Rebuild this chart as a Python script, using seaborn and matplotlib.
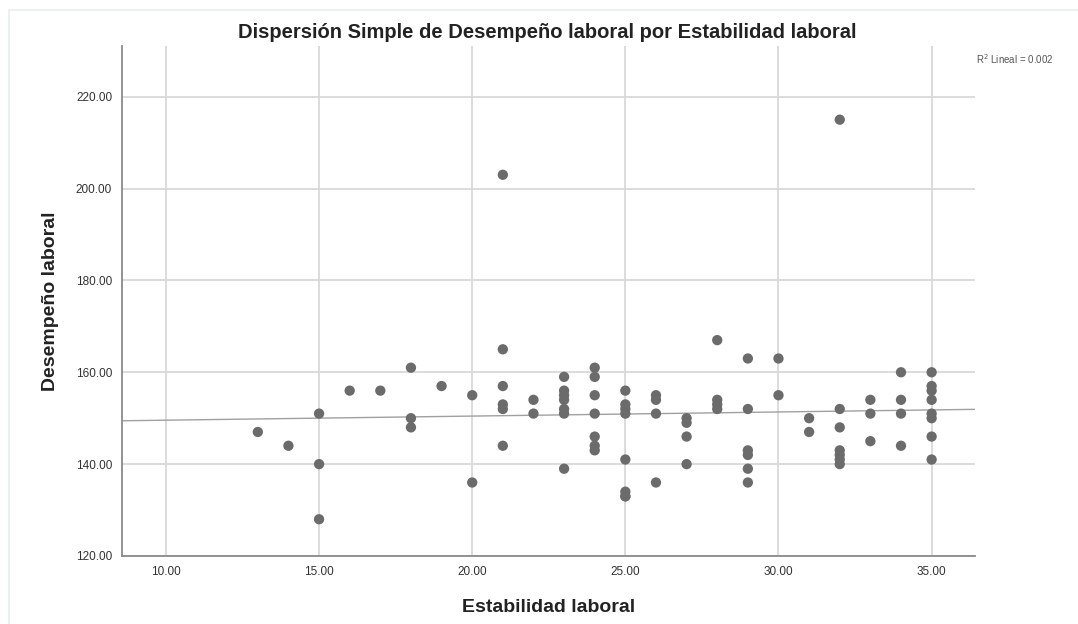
import matplotlib
matplotlib.use("Agg")
import matplotlib.pyplot as plt
import seaborn as sns
import pandas as pd

estabilidad = [13, 14, 15, 15, 15, 16, 17, 18, 18, 18, 19, 20, 20,
               21, 21, 21, 21, 21, 21, 22, 22,
               23, 23, 23, 23, 23, 23, 23,
               24, 24, 24, 24, 24, 24, 24,
               25, 25, 25, 25, 25, 25, 25, 25,
               26, 26, 26, 26,
               27, 27, 27, 27,
               28, 28, 28, 28,
               29, 29, 29, 29, 29, 29,
               30, 30,
               31, 31,
               32, 32, 32, 32, 32, 32, 32,
               33, 33, 33,
               34, 34, 34, 34,
               35, 35, 35, 35, 35, 35, 35, 35]
desempeno = [147, 144, 151, 140, 128, 156, 156, 161, 150, 148, 157, 155, 136,
             203, 165, 157, 153, 152, 144, 154, 151,
             159, 156, 155, 154, 152, 151, 139,
             161, 159, 155, 151, 146, 144, 143,
             156, 153, 152, 151, 141, 134, 133, 133,
             155, 154, 151, 136,
             150, 149, 146, 140,
             167, 154, 153, 152,
             163, 152, 143, 142, 139, 136,
             163, 155,
             150, 147,
             215, 152, 148, 143, 142, 141, 140,
             154, 151, 145,
             160, 154, 151, 144,
             160, 157, 156, 154, 151, 150, 146, 141]

x_ticks = [10, 15, 20, 25, 30, 35]
y_ticks = [120, 140, 160, 180, 200, 220]

df = pd.DataFrame({"Estabilidad laboral": estabilidad, "Desempeño laboral": desempeno})

sns.set_theme(style="white")
plt.rcParams["font.family"] = ["Liberation Sans", "DejaVu Sans"]

fig = plt.figure(figsize=(10.78, 6.24), dpi=100)
ax = fig.add_axes([0.113, 0.109, 0.791, 0.817])

# faint outer frame (left/top) as in the reference
fig.add_artist(plt.Line2D([0.008, 0.008], [0.0, 0.984], color="#e8eeee", linewidth=1.2))
fig.add_artist(plt.Line2D([0.008, 1.0], [0.984, 0.984], color="#e8eeee", linewidth=1.2))

ax.set_xlim(8.56, 36.4)
ax.set_ylim(120, 231)
ax.set_xticks(x_ticks)
ax.set_yticks(y_ticks)
ax.grid(True, color="#d9d9d9", linewidth=1.3, zorder=0)
ax.set_axisbelow(True)

sns.regplot(data=df, x="Estabilidad laboral", y="Desempeño laboral", ax=ax,
            scatter=False, ci=None, truncate=False,
            line_kws=dict(color="#a0a0a0", linewidth=1.0, zorder=2))
sns.scatterplot(data=df, x="Estabilidad laboral", y="Desempeño laboral", ax=ax,
                color="#6b6b6b", s=55, edgecolor="none", zorder=3)

ax.set_xticklabels([f"{v:.2f}" for v in x_ticks], fontsize=8.5, color="#333333")
ax.set_yticklabels([f"{v:.2f}" for v in y_ticks], fontsize=8.5, color="#333333")
ax.tick_params(axis="both", length=0, pad=7)

for s in ["top", "right"]:
    ax.spines[s].set_visible(False)
for s in ["left", "bottom"]:
    ax.spines[s].set_color("#8a8a8a")
    ax.spines[s].set_linewidth(1.3)

ax.set_xlabel("Estabilidad laboral", fontsize=14, fontweight="bold", labelpad=15, color="#222222")
ax.set_ylabel("Desempeño laboral", fontsize=14, fontweight="bold", labelpad=12, color="#222222")
fig.text(0.508, 0.948, "Dispersión Simple de Desempeño laboral por Estabilidad laboral",
         ha="center", va="center", fontsize=14.5, fontweight="bold", color="#222222")
fig.text(0.905, 0.905, "R$^2$ Lineal = 0.002", ha="left", va="center", fontsize=7, color="#555555")

fig.savefig("out.png", dpi=100)
